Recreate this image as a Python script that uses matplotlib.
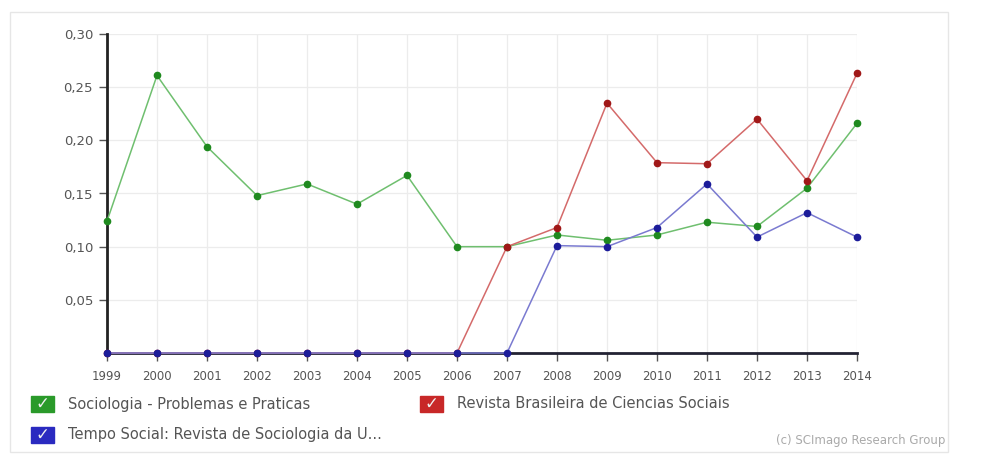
import matplotlib.pyplot as plt
from matplotlib.patches import Rectangle

plt.rcParams['font.family'] = ['DejaVu Sans']

years = list(range(1999, 2015))
sociologia = [0.124, 0.261, 0.194, 0.148, 0.159, 0.140, 0.167, 0.100,
              0.100, 0.111, 0.106, 0.111, 0.123, 0.119, 0.155, 0.216]
revista_bras = [0, 0, 0, 0, 0, 0, 0, 0,
                0.100, 0.118, 0.235, 0.179, 0.178, 0.220, 0.162, 0.263]
tempo_social = [0, 0, 0, 0, 0, 0, 0, 0,
                0, 0.101, 0.100, 0.118, 0.159, 0.109, 0.132, 0.109]
names = ["Sociologia - Problemas e Praticas",
         "Revista Brasileira de Ciencias Sociais",
         "Tempo Social: Revista de Sociologia da U..."]
yticks = [0.05, 0.10, 0.15, 0.20, 0.25, 0.30]

fig = plt.figure(figsize=(9.88, 4.65), dpi=100)
# outer frame
fig.patches.append(Rectangle((10/988, 1-452/465), 938/988, 440/465, transform=fig.transFigure,
                             fill=False, edgecolor='#e6e6e6', lw=1))

ax = fig.add_axes([107/988, 1-353/465, 750/988, 319/465])

series = [(sociologia, '#6fbf6f', '#1f8a1f'),
          (revista_bras, '#d46a6a', '#a01818'),
          (tempo_social, '#7a7ad0', '#1c1c9a')]
for vals, lc, mc in series:
    ax.plot(years, vals, color=lc, lw=1.1, marker='o', ms=4.5,
            markerfacecolor=mc, markeredgecolor=mc, clip_on=False, zorder=3)

ax.set_xlim(1999, 2014)
ax.set_ylim(0, 0.30)
ax.set_xticks(years)
ax.set_xticklabels([str(y) for y in years], fontsize=8.5, color='#555555')
ax.set_yticks(yticks)
ax.set_yticklabels([('%.2f' % v).replace('.', ',') for v in yticks], fontsize=9.5, color='#555555')
ax.grid(True, color='#ececec', lw=0.9)
ax.set_axisbelow(True)
for s in ['top', 'right']:
    ax.spines[s].set_visible(False)
ax.spines['left'].set_linewidth(2)
ax.spines['bottom'].set_linewidth(2)
ax.spines['left'].set_color('#222222')
ax.spines['bottom'].set_color('#222233')
ax.tick_params(axis='both', length=6, width=1, color='#555555', pad=4)
ax.tick_params(axis='x', pad=6)

# legend with check boxes
legend_pos = [(31, 404), (420, 404), (31, 435)]
box_colors = ['#2a9a2a', '#c82828', '#2a2ac0']
for (x, y), c, name in zip(legend_pos, box_colors, names):
    fig.patches.append(Rectangle((x/988, 1-(y+8)/465), 23/988, 16/465,
                                 transform=fig.transFigure, color=c))
    fig.text((x+11.5)/988, 1-y/465, '✓', color='#f0f0f0', fontsize=12, fontweight='bold',
             ha='center', va='center')
    fig.text((x+37)/988, 1-y/465, name, fontsize=10.5, color='#555555', va='center')

fig.text(945/988, 1-440/465, '(c) SCImago Research Group', fontsize=8.5,
         color='#aaaaaa', ha='right', va='center')

fig.savefig('out.png', dpi=100, facecolor='white')
